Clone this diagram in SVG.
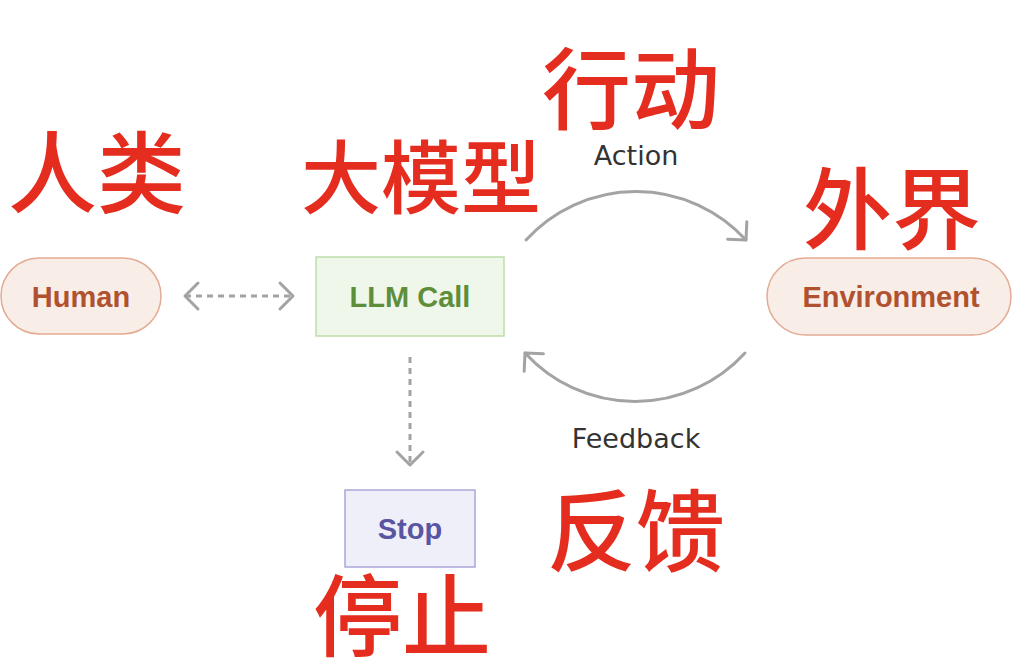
<svg xmlns="http://www.w3.org/2000/svg" width="1018" height="672" viewBox="0 0 1018 672">
  <style>
    .lbl { font-family: "Liberation Sans", Arial, sans-serif; font-weight: 700; font-size: 29px; text-anchor: middle; }
    .edge-lbl { font-family: "DejaVu Sans", "Liberation Sans", sans-serif; font-size: 27px; fill: #333333; text-anchor: middle; }
    .cn { font-family: "Noto Sans CJK SC", "Noto Sans", sans-serif; font-weight: 500; font-size: 89px; fill: #e52d1f; text-anchor: middle; }
    .conn { fill: none; stroke: #a3a3a3; stroke-width: 3; stroke-linecap: round; }
    .dash { stroke-dasharray: 6 5; stroke-linecap: butt; }
  </style>
  <defs>
    <marker id="chev" markerUnits="userSpaceOnUse" viewBox="-16 -16 20 32" refX="0" refY="0" markerWidth="20" markerHeight="32" orient="auto-start-reverse">
      <path d="M -13 -13 L 0 0 L -13 13" fill="none" stroke="#a3a3a3" stroke-width="3" stroke-linecap="round" stroke-linejoin="round"/>
    </marker>
  </defs>
  <rect width="1018" height="672" fill="#ffffff"/>

  <g id="connectors">
    <line class="conn dash" x1="185" y1="296" x2="293" y2="296" marker-start="url(#chev)" marker-end="url(#chev)"/>
    <line class="conn dash" x1="410" y1="357" x2="410" y2="465" marker-end="url(#chev)"/>
    <path id="action-arc" class="conn" d="M 526 240 A 149 149 0 0 1 746 240" marker-end="url(#chev)"/>
    <path id="feedback-arc" class="conn" d="M 745 353 A 149 149 0 0 1 525 353" marker-end="url(#chev)"/>
    <text class="edge-lbl" x="636" y="165">Action</text>
    <text class="edge-lbl" x="636" y="448">Feedback</text>
  </g>

  <g id="human">
    <rect x="1" y="258" width="160" height="76" rx="38" fill="#f9ede7" stroke="#e3ab93" stroke-width="1.5"/>
    <text class="lbl" x="81" y="307" fill="#b0522f">Human</text>
  </g>
  <g id="llm-call">
    <rect x="316" y="257" width="188" height="79" fill="#eff6ea" stroke="#bfddab" stroke-width="1.5"/>
    <text class="lbl" x="410" y="307" fill="#5f8e3a">LLM Call</text>
  </g>
  <g id="environment">
    <rect x="767" y="258" width="244" height="77" rx="38.5" fill="#f9ede7" stroke="#e3ab93" stroke-width="1.5"/>
    <text class="lbl" x="891" y="307" fill="#b0522f">Environment</text>
  </g>
  <g id="stop">
    <rect x="345" y="490" width="130" height="77" fill="#efeff9" stroke="#aaa6da" stroke-width="1.5"/>
    <text class="lbl" x="410" y="539" fill="#5a55a3">Stop</text>
  </g>

  <g id="annotations">
    <text class="cn" x="97" y="206">人类</text>
    <text class="cn" x="421" y="207" style="font-size:80px">大模型</text>
    <text class="cn" x="631" y="122">行动</text>
    <text class="cn" x="892" y="242">外界</text>
    <text class="cn" x="636" y="564">反馈</text>
    <text class="cn" x="402" y="649">停止</text>
  </g>
</svg>
